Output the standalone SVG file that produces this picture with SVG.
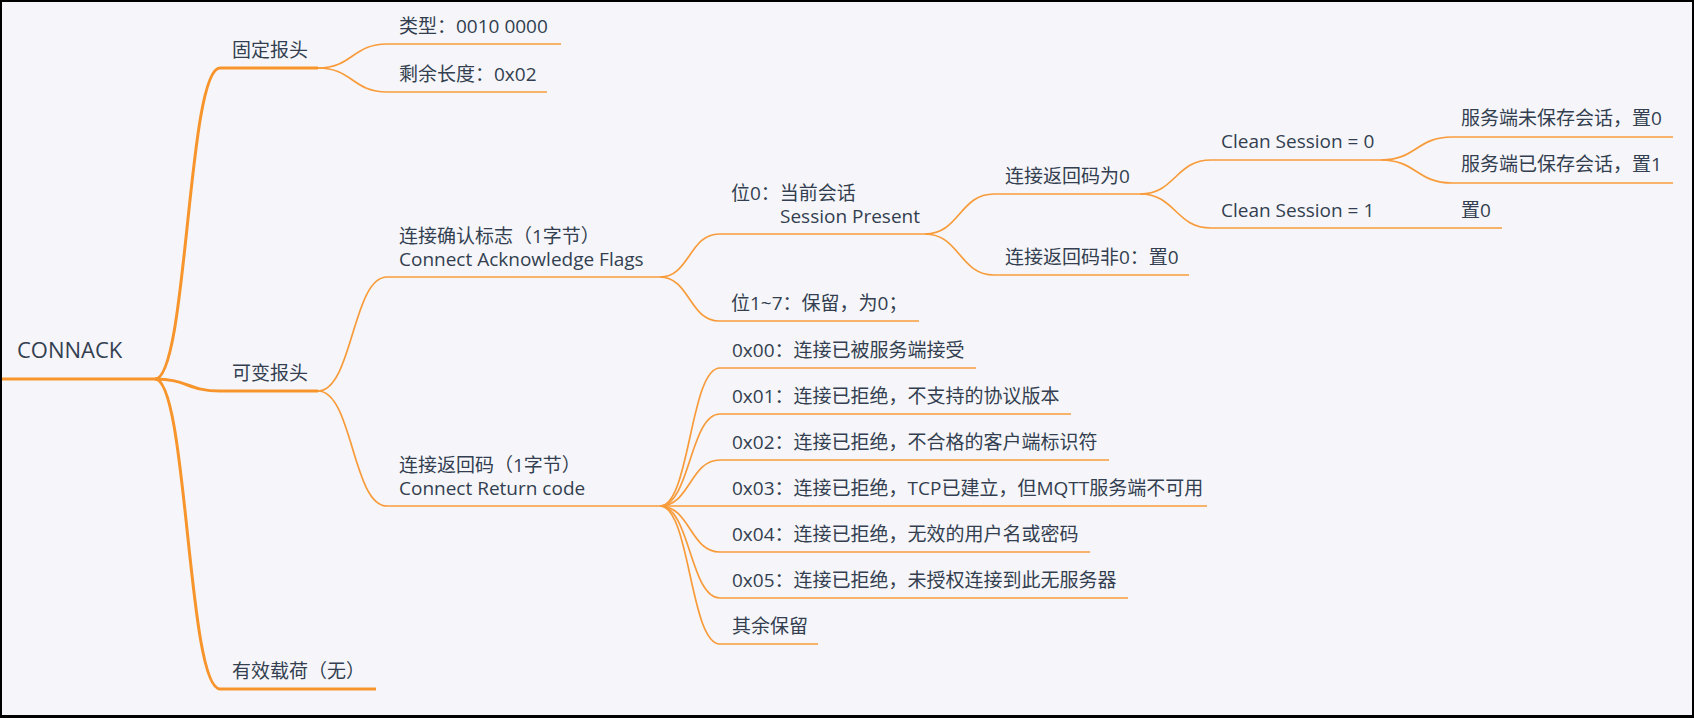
<svg xmlns="http://www.w3.org/2000/svg" width="1694" height="718" viewBox="0 0 1694 718">
<style>
text { font-family: "Open Sans", "Noto Sans CJK SC", sans-serif; font-size: 19px; fill: #333f50; }
.root { font-size: 22px; }
.thick { stroke: #f7952c; stroke-width: 3; fill: none; }
.thin { stroke: #f89b3a; stroke-width: 1.7; fill: none; }
</style>
<rect x="0" y="0" width="1694" height="718" fill="#000"/>
<rect x="2" y="2" width="1690" height="713" fill="#f6f6fa"/>

<g id="connectors">
  <path class="thick" d="M155,379 C187.5,379 187.5,68 220,68"/>
  <path class="thick" d="M155,379 C187.5,379 187.5,391 220,391"/>
  <path class="thick" d="M155,379 C187.5,379 187.5,689 220,689"/>
  <path class="thin" d="M318,68 C352.5,68 352.5,44 387,44"/>
  <path class="thin" d="M318,68 C352.5,68 352.5,92 387,92"/>
  <path class="thin" d="M318,391 C352.5,391 352.5,277 387,277"/>
  <path class="thin" d="M318,391 C352.5,391 352.5,506 387,506"/>
  <path class="thin" d="M660,277 C689.5,277 689.5,234 719,234"/>
  <path class="thin" d="M660,277 C689.5,277 689.5,321 719,321"/>
  <path class="thin" d="M660,506 C690,506 690,368 720,368"/>
  <path class="thin" d="M660,506 C690,506 690,414 720,414"/>
  <path class="thin" d="M660,506 C690,506 690,460 720,460"/>
  <path class="thin" d="M660,506 L720,506"/>
  <path class="thin" d="M660,506 C690,506 690,552 720,552"/>
  <path class="thin" d="M660,506 C690,506 690,598 720,598"/>
  <path class="thin" d="M660,506 C690,506 690,644 720,644"/>
  <path class="thin" d="M925,234 C959.5,234 959.5,194 994,194"/>
  <path class="thin" d="M925,234 C959.5,234 959.5,275 994,275"/>
  <path class="thin" d="M1140,194 C1175.5,194 1175.5,160 1211,160"/>
  <path class="thin" d="M1140,194 C1175.5,194 1175.5,228 1211,228"/>
  <path class="thin" d="M1381,160 C1416.5,160 1416.5,137 1452,137"/>
  <path class="thin" d="M1381,160 C1416.5,160 1416.5,183 1452,183"/>
  <path class="thin" d="M1381,228 L1452,228"/>
</g>

<g id="root">
  <text class="root" x="17" y="358">CONNACK</text>
  <line class="thick" x1="2" y1="379" x2="155" y2="379"/>
</g>

<g id="fixed-header">
  <text x="232" y="56.5">固定报头</text>
  <line class="thick" x1="220" y1="68" x2="318" y2="68"/>
</g>
<g id="type">
  <text x="399" y="33">类型：0010 0000</text>
  <line class="thin" x1="387" y1="44" x2="561" y2="44"/>
</g>
<g id="remaining-length">
  <text x="399" y="81">剩余长度：0x02</text>
  <line class="thin" x1="387" y1="92" x2="547" y2="92"/>
</g>

<g id="variable-header">
  <text x="232" y="380">可变报头</text>
  <line class="thick" x1="220" y1="391" x2="318" y2="391"/>
</g>
<g id="ack-flags">
  <text x="399" y="243">连接确认标志（1字节）</text>
  <text x="399" y="266">Connect Acknowledge Flags</text>
  <line class="thin" x1="387" y1="277" x2="660" y2="277"/>
</g>
<g id="bit0">
  <text x="731" y="200">位0：当前会话</text>
  <text x="780" y="223">Session Present</text>
  <line class="thin" x1="719" y1="234" x2="925" y2="234"/>
</g>
<g id="bit1-7">
  <text x="731" y="310">位1~7：保留，为0；</text>
  <line class="thin" x1="719" y1="321" x2="919" y2="321"/>
</g>
<g id="rc-zero">
  <text x="1005" y="183">连接返回码为0</text>
  <line class="thin" x1="994" y1="194" x2="1140" y2="194"/>
</g>
<g id="rc-nonzero">
  <text x="1005" y="264">连接返回码非0：置0</text>
  <line class="thin" x1="994" y1="275" x2="1189" y2="275"/>
</g>
<g id="cs0">
  <text x="1221" y="148">Clean Session = 0</text>
  <line class="thin" x1="1211" y1="160" x2="1381" y2="160"/>
</g>
<g id="cs1">
  <text x="1221" y="217">Clean Session = 1</text>
  <line class="thin" x1="1211" y1="228" x2="1381" y2="228"/>
</g>
<g id="cs0-unsaved">
  <text x="1461" y="125">服务端未保存会话，置0</text>
  <line class="thin" x1="1452" y1="137" x2="1673" y2="137"/>
</g>
<g id="cs0-saved">
  <text x="1461" y="171">服务端已保存会话，置1</text>
  <line class="thin" x1="1452" y1="183" x2="1673" y2="183"/>
</g>
<g id="cs1-zero">
  <text x="1461" y="217">置0</text>
  <line class="thin" x1="1452" y1="228" x2="1502" y2="228"/>
</g>

<g id="return-code">
  <text x="399" y="471.5">连接返回码（1字节）</text>
  <text x="399" y="494.5">Connect Return code</text>
  <line class="thin" x1="387" y1="506" x2="660" y2="506"/>
</g>
<g id="rc-0x00">
  <text x="732" y="357">0x00：连接已被服务端接受</text>
  <line class="thin" x1="720" y1="368" x2="976" y2="368"/>
</g>
<g id="rc-0x01">
  <text x="732" y="403">0x01：连接已拒绝，不支持的协议版本</text>
  <line class="thin" x1="720" y1="414" x2="1071" y2="414"/>
</g>
<g id="rc-0x02">
  <text x="732" y="449">0x02：连接已拒绝，不合格的客户端标识符</text>
  <line class="thin" x1="720" y1="460" x2="1109" y2="460"/>
</g>
<g id="rc-0x03">
  <text x="732" y="495">0x03：连接已拒绝，TCP已建立，但MQTT服务端不可用</text>
  <line class="thin" x1="720" y1="506" x2="1207" y2="506"/>
</g>
<g id="rc-0x04">
  <text x="732" y="541">0x04：连接已拒绝，无效的用户名或密码</text>
  <line class="thin" x1="720" y1="552" x2="1090" y2="552"/>
</g>
<g id="rc-0x05">
  <text x="732" y="587">0x05：连接已拒绝，未授权连接到此无服务器</text>
  <line class="thin" x1="720" y1="598" x2="1128" y2="598"/>
</g>
<g id="rc-reserved">
  <text x="732" y="633">其余保留</text>
  <line class="thin" x1="720" y1="644" x2="818" y2="644"/>
</g>

<g id="payload">
  <text x="232" y="678">有效载荷（无）</text>
  <line class="thick" x1="220" y1="689" x2="376" y2="689"/>
</g>
</svg>
